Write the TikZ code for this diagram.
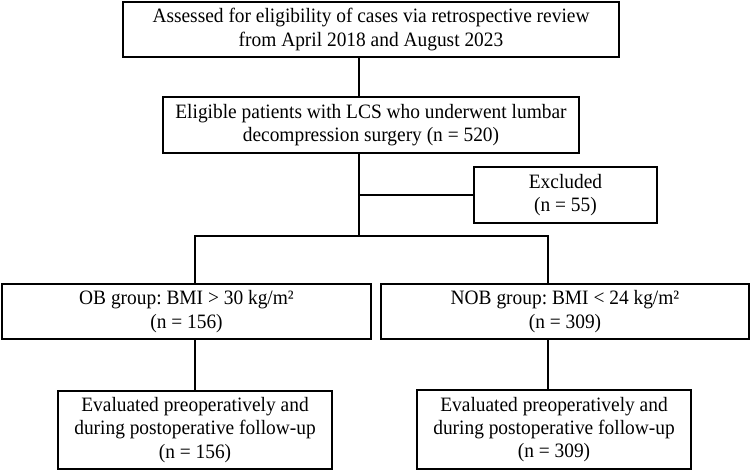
\documentclass[tikz,border=0pt]{standalone}
\usepackage{fontspec}
\setmainfont[FakeStretch=0.95]{Liberation Serif}
\frenchspacing
\begin{document}
\begin{tikzpicture}[x=1bp,y=-1bp,
  box/.style={draw=black,line width=2bp,rectangle,inner sep=0pt,align=center,
    font=\fontsize{20.5}{23.5}\selectfont},
  conn/.style={draw=black,line width=2bp}]
\useasboundingbox (0,0) rectangle (752,472);
\node[box,minimum width=496bp,minimum height=55bp] (box1) at (371,29.5)
  {Assessed for eligibility of cases via retrospective review\\from April 2018 and August 2023};
\node[box,minimum width=416bp,minimum height=56bp] (box2) at (371,125)
  {Eligible patients with LCS who underwent lumbar\\decompression surgery (n = 520)};
\node[box,minimum width=183bp,minimum height=56bp] (excl) at (565.5,195)
  {Excluded\\(n = 55)};
\node[box,minimum width=369bp,minimum height=55bp] (ob) at (186.5,311.5)
  {OB group: BMI > 30 kg/m²\\(n = 156)};
\node[box,minimum width=368bp,minimum height=55bp] (nob) at (565,311.5)
  {NOB group: BMI < 24 kg/m²\\(n = 309)};
\node[box,minimum width=274bp,minimum height=78bp] (evl) at (195,430)
  {Evaluated preoperatively and\\during postoperative follow-up\\(n = 156)};
\node[box,minimum width=274bp,minimum height=79bp] (evr) at (554,429.5)
  {Evaluated preoperatively and\\during postoperative follow-up\\(n = 309)};
\coordinate (tr) at (359,236);
\coordinate (bl) at (195,236);
\coordinate (brr) at (548,236);
\draw[conn] (box1.south -| tr) -- (box2.north -| tr);
\draw[conn] (box2.south -| tr) -- (tr);
\draw[conn] (excl.west) -- (excl.west -| tr);
\draw[conn,line cap=rect] (bl) -- (brr);
\draw[conn] (bl) -- (bl |- ob.north);
\draw[conn] (brr) -- (brr |- nob.north);
\draw[conn] (ob.south -| bl) -- (evl.north -| bl);
\draw[conn] (nob.south -| brr) -- (evr.north -| brr);
\end{tikzpicture}
\end{document}
